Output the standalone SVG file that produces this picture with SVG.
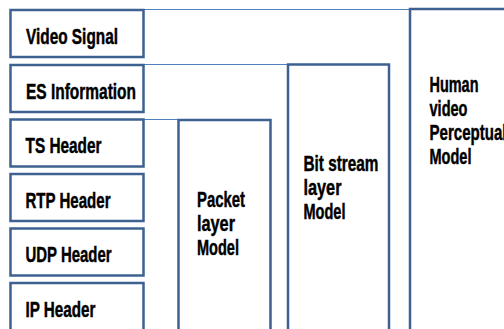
<svg xmlns="http://www.w3.org/2000/svg" width="504" height="329" viewBox="0 0 504 329">
<style>
.box{fill:#ffffff;stroke:#3d6191;stroke-width:2.5}
.conn{stroke:#4f81bd;stroke-width:1;fill:none}
.t{font-family:"Liberation Sans",Arial,sans-serif;font-weight:bold;font-size:21.5px;fill:#000000;stroke:#000000;stroke-width:0.45}
</style>
<rect width="504" height="329" fill="#ffffff"/>
<g id="connectors">
<line class="conn" x1="143" y1="9.5" x2="410" y2="9.5"/>
<line class="conn" x1="143" y1="64.5" x2="288" y2="64.5"/>
<line class="conn" x1="143" y1="119.5" x2="178" y2="119.5"/>
</g>
<g id="video-signal">
<rect class="box" x="10.5" y="10" width="133" height="47"/>
<text class="t" x="26" y="43.5" textLength="92" lengthAdjust="spacingAndGlyphs">Video Signal</text>
</g>
<g id="es-information">
<rect class="box" x="10.5" y="65" width="133" height="47"/>
<text class="t" x="26" y="98.5" textLength="110" lengthAdjust="spacingAndGlyphs">ES Information</text>
</g>
<g id="ts-header">
<rect class="box" x="10.5" y="119.5" width="133" height="47"/>
<text class="t" x="25.5" y="153" textLength="76" lengthAdjust="spacingAndGlyphs">TS Header</text>
</g>
<g id="rtp-header">
<rect class="box" x="10.5" y="174" width="133" height="47"/>
<text class="t" x="25.5" y="207.5" textLength="85" lengthAdjust="spacingAndGlyphs">RTP Header</text>
</g>
<g id="udp-header">
<rect class="box" x="10.5" y="228.5" width="133" height="47"/>
<text class="t" x="25.5" y="262" textLength="86" lengthAdjust="spacingAndGlyphs">UDP Header</text>
</g>
<g id="ip-header">
<rect class="box" x="10.5" y="283" width="133" height="60"/>
<text class="t" x="25.5" y="316.5" textLength="70" lengthAdjust="spacingAndGlyphs">IP Header</text>
</g>
<g id="packet-layer-model">
<rect class="box" x="178.5" y="120" width="92" height="230"/>
<text class="t" x="197" y="206.5" textLength="48" lengthAdjust="spacingAndGlyphs">Packet</text>
<text class="t" x="197" y="230.5" textLength="38" lengthAdjust="spacingAndGlyphs">layer</text>
<text class="t" x="197" y="254.5" textLength="42" lengthAdjust="spacingAndGlyphs">Model</text>
</g>
<g id="bit-stream-layer-model">
<rect class="box" x="288" y="64.5" width="101" height="290"/>
<text class="t" x="303.5" y="170.5" textLength="75" lengthAdjust="spacingAndGlyphs">Bit stream</text>
<text class="t" x="303.5" y="194.5" textLength="38" lengthAdjust="spacingAndGlyphs">layer</text>
<text class="t" x="303.5" y="218.5" textLength="42" lengthAdjust="spacingAndGlyphs">Model</text>
</g>
<g id="human-video-perceptual-model">
<rect class="box" x="410" y="9" width="120" height="345"/>
<text class="t" x="429.5" y="91.5" textLength="49" lengthAdjust="spacingAndGlyphs">Human</text>
<text class="t" x="429.5" y="115.5" textLength="38" lengthAdjust="spacingAndGlyphs">video</text>
<text class="t" x="429.5" y="140" textLength="77" lengthAdjust="spacingAndGlyphs">Perceptual</text>
<text class="t" x="429.5" y="164" textLength="42" lengthAdjust="spacingAndGlyphs">Model</text>
</g>
</svg>
